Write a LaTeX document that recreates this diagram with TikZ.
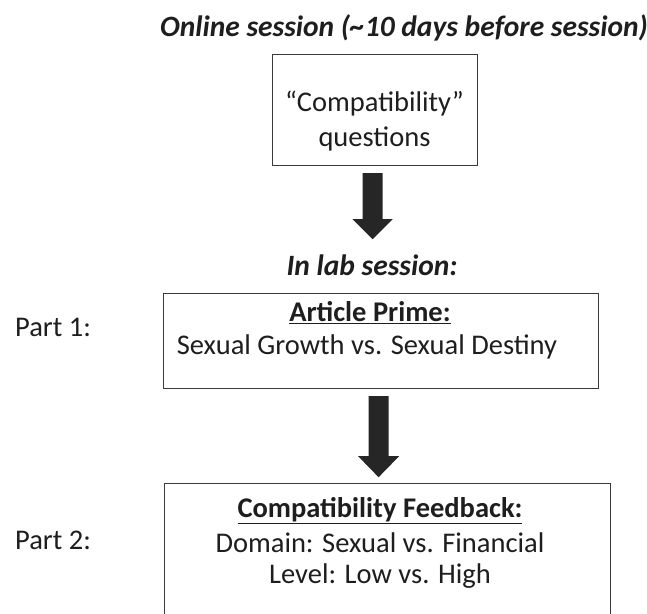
\documentclass[tikz,border=0pt]{standalone}
\usepackage{fontspec}
\setmainfont{Carlito}
\usetikzlibrary{calc}
\definecolor{ink}{HTML}{1E1E1E}
\definecolor{edge}{HTML}{3A3A3A}
\definecolor{arrowfill}{HTML}{262626}
\begin{document}
\begin{tikzpicture}[x=1pt,y=-1pt,
  every node/.style={text=ink,font=\fontsize{28.5}{34}\selectfont},
  box/.style={draw=edge,line width=1.2pt,fill=white,inner sep=0pt,anchor=north west},
  txt/.style={inner sep=0pt,anchor=center},
  heading/.style={inner sep=0pt,font=\fontsize{29.5}{34}\selectfont\bfseries\itshape},
  blockarrow/.style={fill=arrowfill,draw=none}]
\useasboundingbox (0,0) rectangle (647,613);
\clip (0,0) rectangle (647,613);
\fill[white] (0,0) rectangle (647,613);

\node[heading] (title) at (404,28) {Online session (\textasciitilde10 days before session)};

\node[box,minimum width=205pt,minimum height=111pt] (b1) at (272,54) {};
\node[txt] (b1a) at (374.5,104) {“Compatibility”};
\node[txt] (b1b) at (374.5,139) {questions};

\node[heading] (lab) at (372,265) {In lab session:};

\node[box,minimum width=435pt,minimum height=95pt] (b2) at (163,293) {};
\node[txt] (b2a) at (370,313) {\textbf{\underline{Article Prime:}}};
\node[txt] (b2b) at (367,347) {Sexual Growth vs. Sexual Destiny};

\node[box,minimum width=446pt,minimum height=160pt] (b3) at (164,483) {};
\node[txt] (b3a) at (380,511) {\textbf{\underline{Compatibility Feedback:}}};
\node[txt] (b3b) at (380,543) {Domain: Sexual vs. Financial};
\node[txt] (b3c) at (380,576) {Level: Low vs. High};

\node[inner sep=0pt,anchor=west] (p1) at (15,327) {Part 1:};
\node[inner sep=0pt,anchor=west] (p2) at (15,540) {Part 2:};

% block arrows
\fill[blockarrow] ($(b1.south)+(-12.5,7)$) -- ++(20,0) -- ++(0,46) -- ++(10,0)
  -- ($(b1.south)+(-2.5,73)$) -- ++(-20,-20) -- ++(10,0) -- cycle;

\fill[blockarrow] ($(b2.south)+(-12.5,7)$) -- ++(20,0) -- ++(0,60) -- ++(10.5,0)
  -- ($(b2.south)+(-2.5,88)$) -- ++(-20.5,-21) -- ++(10.5,0) -- cycle;
\end{tikzpicture}
\end{document}
